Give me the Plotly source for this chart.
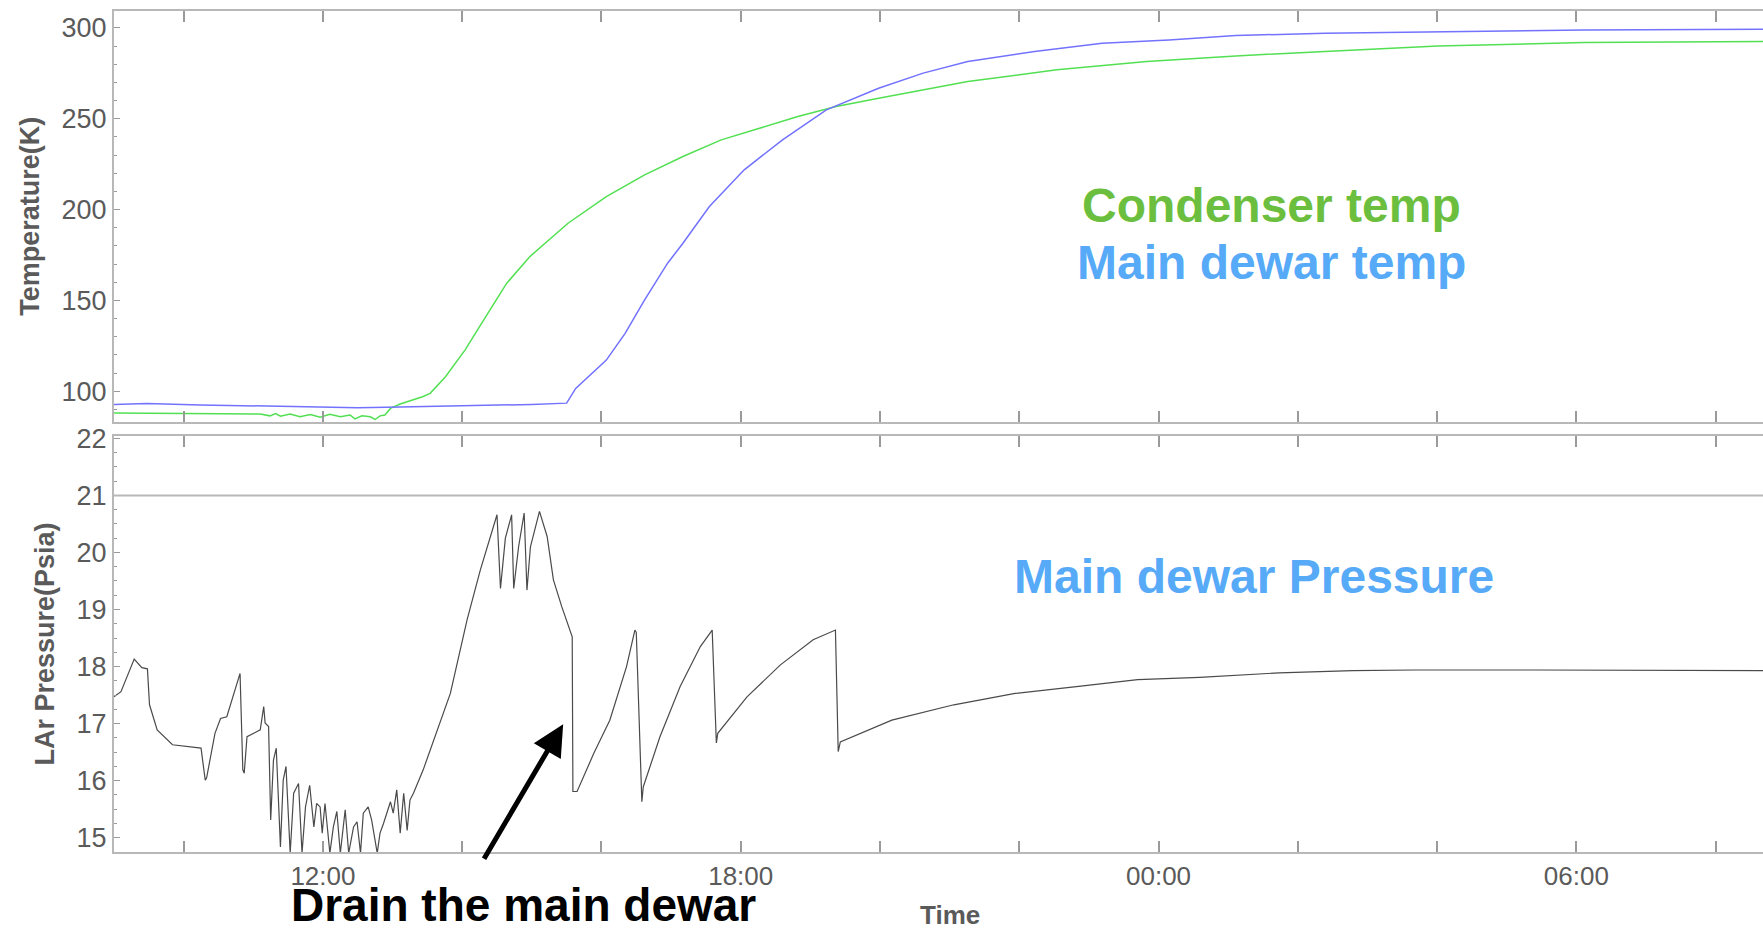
import plotly.graph_objects as go

# ---------------- data (hours since midnight of day 1) ----------------
green_hours = [9.0, 10.24, 11.10, 11.24, 11.32, 11.39, 11.53, 11.67, 11.82, 11.96, 12.10, 12.25,
               12.39, 12.46, 12.56, 12.68, 12.75, 12.82, 12.89, 12.97, 13.11, 13.43, 13.54, 13.76,
               14.04, 14.31, 14.64, 14.97, 15.52, 16.07, 16.62, 17.17, 17.72, 18.27, 18.82, 19.37,
               19.98, 21.26, 22.54, 23.83, 25.11, 26.39, 28.01, 30.11, 32.68]
condenser_K = [88.0, 87.8, 87.5, 86.5, 87.8, 86.3, 87.5, 86.0, 87.2, 85.8, 87.3, 86.0,
               87.0, 84.8, 86.5, 86.0, 84.5, 86.5, 87.0, 90.6, 93.0, 97.0, 98.9, 108.0,
               122.7, 139.3, 159.5, 174.1, 192.5, 207.2, 219.1, 229.2, 238.4, 244.8, 251.2, 256.7,
               261.3, 270.5, 276.9, 281.5, 284.6, 287.0, 290.0, 292.0, 292.5]

blue_hours = [9.0, 9.47, 10.24, 11.0, 11.67, 12.5, 13.11, 14.07, 15.0, 15.50, 15.63, 16.07,
              16.34, 16.62, 16.95, 17.17, 17.55, 18.05, 18.60, 19.23, 19.98, 20.62, 21.26, 22.22,
              23.19, 24.15, 25.11, 26.39, 28.01, 30.11, 32.68]
dewar_K = [92.8, 93.3, 92.5, 92.0, 91.2, 91.0, 91.3, 91.9, 92.8, 93.5, 101.6, 117.2,
           131.9, 150.3, 170.5, 181.5, 201.7, 221.9, 238.4, 254.9, 266.8, 275.1, 281.5, 287.0,
           291.6, 293.4, 295.8, 297.1, 298.0, 298.9, 299.3]

p_hours = [9.00, 9.10, 9.29, 9.40, 9.48, 9.51, 9.62, 9.84, 10.25, 10.31, 10.33, 10.45, 10.53, 10.62,
           10.81, 10.85, 10.87, 10.91, 11.10, 11.15, 11.17, 11.22, 11.25, 11.29, 11.33, 11.39, 11.43,
           11.47, 11.53, 11.58, 11.65, 11.70, 11.75, 11.81, 11.87, 11.91, 11.96, 11.99, 12.03, 12.10,
           12.15, 12.20, 12.25, 12.32, 12.37, 12.44, 12.49, 12.54, 12.58, 12.65, 12.70, 12.78, 12.82,
           12.87, 12.97, 13.01, 13.06, 13.11, 13.16, 13.21, 13.25, 13.30, 13.44, 13.59, 13.83, 14.07,
           14.26, 14.50, 14.55, 14.62, 14.71, 14.74, 14.81, 14.89, 14.93, 14.98, 15.11, 15.22, 15.31,
           15.43, 15.58, 15.59, 15.65, 15.89, 16.12, 16.36, 16.48, 16.50, 16.58, 16.60, 16.84, 17.13,
           17.42, 17.59, 17.65, 17.67, 18.09, 18.57, 19.04, 19.36, 19.40, 19.43, 19.72, 20.17, 21.06,
           21.94, 22.82, 23.70, 24.59, 25.73, 26.79, 27.67, 29.43, 31.20, 32.68]
pressure_psia = [17.47, 17.56, 18.13, 17.98, 17.96, 17.33, 16.89, 16.63, 16.57, 16.01, 16.05, 16.83, 17.09, 17.12,
                 17.88, 16.19, 16.13, 16.77, 16.89, 17.30, 17.01, 16.95, 15.31, 16.36, 16.57, 14.84, 16.01,
                 16.25, 14.73, 15.78, 15.95, 14.73, 15.54, 15.92, 15.19, 15.60, 15.54, 15.08, 15.60, 14.73,
                 15.19, 15.46, 14.73, 15.49, 14.73, 15.19, 15.28, 14.73, 15.43, 15.54, 15.31, 14.73, 15.08,
                 15.25, 15.63, 15.43, 15.84, 15.08, 15.78, 15.13, 15.66, 15.78, 16.19, 16.71, 17.53, 18.82,
                 19.69, 20.66, 19.37, 20.25, 20.66, 19.37, 20.10, 20.69, 19.34, 20.10, 20.72, 20.28, 19.52,
                 19.05, 18.52, 15.81, 15.81, 16.48, 17.06, 18.00, 18.64, 18.60, 15.63, 15.89, 16.77, 17.65,
                 18.35, 18.64, 16.66, 16.83, 17.47, 18.03, 18.47, 18.64, 16.51, 16.68, 16.83, 17.06, 17.33,
                 17.53, 17.65, 17.77, 17.81, 17.89, 17.93, 17.94, 17.94, 17.94, 17.93]

x_tick_vals = [10, 12, 14, 16, 18, 20, 22, 24, 26, 28, 30, 32]
x_tick_text = ["", "12:00", "", "", "18:00", "", "", "00:00", "", "", "06:00", ""]
temp_ticks = [100, 150, 200, 250, 300]
pressure_ticks = [15, 16, 17, 18, 19, 20, 21, 22]
pressure_limit = 21

# ---------------- figure ----------------
FONT = "Liberation Sans, Arial, Helvetica, sans-serif"
FRAME = "#b8b8b8"
TICK = "#9a9a9a"
LABEL = "#5a5a5a"

fig = go.Figure()
fig.add_trace(go.Scatter(x=green_hours, y=condenser_K, mode="lines", name="Condenser temp",
                         line=dict(color="#52e052", width=1.5), xaxis="x", yaxis="y"))
fig.add_trace(go.Scatter(x=blue_hours, y=dewar_K, mode="lines", name="Main dewar temp",
                         line=dict(color="#7272ff", width=1.5), xaxis="x", yaxis="y"))
fig.add_trace(go.Scatter(x=p_hours, y=pressure_psia, mode="lines", name="Main dewar Pressure",
                         line=dict(color="#4a4a4a", width=1.2), xaxis="x2", yaxis="y2"))

xcommon = dict(range=[9.0, 32.68], tickmode="array", tickvals=x_tick_vals, ticktext=x_tick_text,
               ticks="inside", ticklen=11, tickwidth=1.5, tickcolor=TICK,
               showline=True, linecolor=FRAME, linewidth=2, mirror="ticks",
               showgrid=False, zeroline=False, automargin=False)
ycommon = dict(ticks="inside", ticklen=6, tickwidth=1.2, tickcolor=TICK,
               showline=True, linecolor=FRAME, linewidth=2, mirror=False,
               showgrid=False, zeroline=False, automargin=False,
               tickfont=dict(family=FONT, size=27, color=LABEL))

fig.update_layout(
    width=1763, height=932,
    margin=dict(l=114, r=0, t=11, b=80),
    paper_bgcolor="white", plot_bgcolor="white",
    showlegend=False,
    font=dict(family=FONT, color=LABEL),
    xaxis=dict(domain=[0, 1], anchor="y", showticklabels=False, **xcommon),
    xaxis2=dict(domain=[0, 1], anchor="y2", showticklabels=True,
                tickfont=dict(family=FONT, size=26, color=LABEL),
                **xcommon),
    yaxis=dict(domain=[0.5117, 1.0], anchor="x", range=[83.3, 309.3],
               tickmode="array", tickvals=temp_ticks,
               minor=dict(dtick=10, ticklen=3, tickcolor=TICK, ticks="inside"),
               title=dict(text="Temperature(K)",
                          font=dict(family=FONT, size=27, color=LABEL, weight="bold"), standoff=14),
               **ycommon),
    yaxis2=dict(domain=[0, 0.4946], anchor="x2", range=[14.75, 22.04],
                tickmode="array", tickvals=pressure_ticks,
                minor=dict(dtick=0.25, ticklen=3, tickcolor=TICK, ticks="inside"),
                title=dict(text="LAr Pressure(Psia)",
                           font=dict(family=FONT, size=27, color=LABEL, weight="bold"), standoff=14),
                **ycommon),
)

fig.add_shape(type="line", xref="x2 domain", yref="y2", x0=0, x1=1,
              y0=pressure_limit, y1=pressure_limit, line=dict(color=FRAME, width=2))

big = dict(family=FONT, size=48, weight="bold")
centered = dict(xref="paper", yref="paper", xanchor="center", yanchor="middle", showarrow=False)
fig.add_annotation(text="Condenser temp", x=0.7022, y=0.7693, font=dict(color="#6cbf3e", **big), **centered)
fig.add_annotation(text="Main dewar temp", x=0.7022, y=0.7004, font=dict(color="#56aaf7", **big), **centered)
fig.add_annotation(text="Main dewar Pressure", x=0.6911, y=0.3276, font=dict(color="#56aaf7", **big), **centered)
fig.add_annotation(text="Drain the main dewar", x=0.2482, y=-0.0625,
                   font=dict(family=FONT, size=46, weight="bold", color="black"), **centered)
fig.add_annotation(text="Time", x=0.5071, y=-0.0755,
                   font=dict(family=FONT, size=26, weight="bold", color=LABEL), **centered)
fig.add_annotation(text="", x=15.45, y=16.99, xref="x2", yref="y2",
                   ax=-80, ay=136, axref="pixel", ayref="pixel",
                   showarrow=True, arrowhead=2, arrowwidth=5, arrowsize=1.25, arrowcolor="black")

fig.write_html("out.html", config={"displayModeBar": False},
               post_script="document.body.style.margin='0px';")
